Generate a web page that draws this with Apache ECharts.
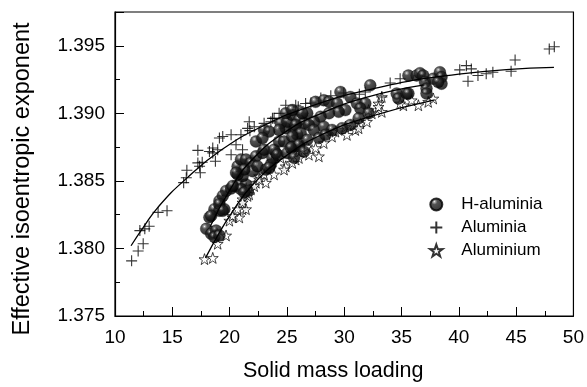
<!DOCTYPE html>
<html><head><meta charset="utf-8">
<script src="https://cdn.jsdelivr.net/npm/echarts@6/dist/echarts.min.js"></script>
<style>html,body{margin:0;padding:0;background:#fff}#c{width:587px;height:387px}</style>
</head><body><div id="c"></div>
<script>
// H-aluminia (balls)
const hAluminiaX = [17.96,18.24,18.53,18.39,18.82,18.68,19.11,18.68,19.11,19.54,19.11,19.40,19.69,20.13,20.56,20.99,21.43,21.57,20.99,21.28,21.13,20.70,20.70,20.99,21.43,21.86,22.00,21.28,22.30,22.87,23.16,23.60,23.74,24.03,22.43,23.45,22.30,23.01,23.88,24.32,24.17,24.75,25.04,25.47,26.05,25.90,25.62,24.90,24.46,24.32,25.04,25.47,26.05,26.49,26.77,26.34,24.90,23.01,23.45,22.87,25.47,27.50,28.22,28.67,29.38,29.67,30.54,31.11,31.84,31.41,32.27,30.10,29.52,28.67,27.94,27.35,26.92,25.77,26.20,25.47,27.35,28.22,28.94,29.81,30.54,31.26,32.13,34.58,34.73,35.45,35.60,36.32,26.05,25.33,26.77,27.79,28.37,36.61,36.90,37.05,37.18,37.18,35.60,37.77,38.35,38.49,38.49,38.20,20.56,19.11,19.40,20.27,18.39,25.62,26.49];
const hAluminiaY = [1.38145,1.38230,1.38121,1.38108,1.38132,1.38084,1.38096,1.38291,1.38279,1.38291,1.38352,1.38389,1.38425,1.38443,1.38462,1.38474,1.38474,1.38425,1.38438,1.38414,1.38535,1.38548,1.38608,1.38658,1.38658,1.38633,1.38572,1.38584,1.38682,1.38707,1.38584,1.38621,1.38670,1.38707,1.38608,1.38597,1.38792,1.38731,1.38731,1.38792,1.38694,1.38792,1.38707,1.38755,1.38755,1.38841,1.38877,1.38890,1.38926,1.38877,1.38938,1.38987,1.38951,1.38926,1.39000,1.39000,1.39000,1.38877,1.38865,1.38817,1.39024,1.39085,1.39097,1.39085,1.39073,1.39158,1.39121,1.39073,1.39073,1.39036,1.39207,1.39024,1.39011,1.39000,1.38975,1.38938,1.38914,1.38914,1.38853,1.38828,1.38877,1.38901,1.38877,1.38890,1.38914,1.38963,1.39000,1.39146,1.39110,1.39146,1.39280,1.39280,1.38767,1.38743,1.38804,1.38817,1.38841,1.39297,1.39280,1.39231,1.39183,1.39146,1.39146,1.39256,1.39304,1.39268,1.39219,1.39231,1.38560,1.38328,1.38279,1.38462,1.38242,1.38672,1.38716];
// Aluminia (plus)
const aluminiaX = [11.45,12.02,12.46,12.17,12.60,12.98,13.76,14.54,15.99,16.22,16.27,17.38,17.61,17.23,17.44,18.53,18.76,17.23,18.24,18.53,18.96,19.11,19.40,20.13,20.13,20.56,20.99,21.13,21.71,21.77,22.15,23.01,23.60,23.88,24.32,24.90,25.77,26.63,21.57,23.74,25.99,27.09,27.96,28.83,29.96,31.32,31.84,33.28,34.01,34.88,40.08,40.66,41.09,40.80,41.67,42.39,42.97,44.56,44.91,47.89,48.33];
const aluminiaY = [1.37908,1.37981,1.38035,1.38132,1.38145,1.38164,1.38267,1.38279,1.38487,1.38523,1.38579,1.38608,1.38638,1.38633,1.38560,1.38707,1.38645,1.38726,1.38718,1.38743,1.38731,1.38817,1.38828,1.38841,1.38694,1.38767,1.38841,1.38731,1.38938,1.38872,1.38901,1.38926,1.38938,1.38963,1.39000,1.39060,1.39060,1.39073,1.38889,1.38963,1.39048,1.39076,1.39113,1.39130,1.39150,1.39141,1.39158,1.39121,1.39224,1.39256,1.39322,1.39353,1.39329,1.39238,1.39280,1.39293,1.39304,1.39312,1.39395,1.39476,1.39493];
// Aluminium (star)
const aluminiumX = [17.81,18.53,18.96,19.69,18.68,20.26,20.85,19.98,21.13,21.43,21.13,21.57,21.86,22.30,23.16,22.58,24.90,25.77,26.05,20.26,20.70,21.13,21.71,22.15,22.58,23.01,23.30,23.74,24.46,25.47,26.05,26.34,26.77,25.47,27.50,28.22,28.94,29.24,30.24,30.97,31.41,31.98,32.41,32.99,33.28,35.16,35.88,26.92,27.79,32.13,33.28,32.99,34.88,36.47,37.33,37.77,30.10,30.82,31.26,29.52,23.88,24.75];
const aluminiumY = [1.37921,1.37930,1.38035,1.38096,1.38121,1.38230,1.38230,1.38206,1.38291,1.38291,1.38364,1.38389,1.38438,1.38487,1.38487,1.38535,1.38608,1.38658,1.38718,1.38242,1.38291,1.38340,1.38401,1.38462,1.38511,1.38548,1.38608,1.38645,1.38670,1.38707,1.38670,1.38731,1.38755,1.38633,1.38743,1.38780,1.38828,1.38865,1.38841,1.38877,1.38926,1.38938,1.39000,1.39073,1.39121,1.39060,1.39097,1.38694,1.38682,1.39024,1.39011,1.39048,1.39073,1.39060,1.39085,1.39110,1.38901,1.38914,1.38890,1.38877,1.38548,1.38584];
// fitted curves
const fitAluminiaX = [11.4,12.5,13.8,16.0,19.3,23.0,27.0,32.4,40.0,48.3];
const fitAluminiaY = [1.3802,1.3816,1.3831,1.3850,1.3873,1.3891,1.3905,1.3918,1.3929,1.3934];
const fitHAluminiaX = [18.3,20,22,25,28,32,37];
const fitHAluminiaY = [1.3816,1.3843,1.3866,1.3887,1.3900,1.3912,1.3921];
const fitAluminiumX = [17.9,19,20,22,25,28,32,37.9];
const fitAluminiumY = [1.3793,1.3810,1.3824,1.3847,1.3869,1.3884,1.3897,1.3910];

const legendNames = ['H-aluminia','Aluminia','Aluminium'];
const xTitle = 'Solid mass loading';
const yTitle = 'Effective isoentropic exponent';

const zip = (a,b) => a.map((v,i) => [v,b[i]]);
const FONT = "Arial, 'Liberation Sans', sans-serif";
const ball = {type:'radial', x:0.36, y:0.3, r:0.7, colorStops:[{offset:0,color:'#ffffff'},{offset:0.08,color:'#a0a0a0'},{offset:0.3,color:'#262626'},{offset:1,color:'#000000'}]};
const PLUS = 'path://M0,50 L100,50 M50,0 L50,100';
const STAR = 'path://M50,0 L61.8,35.1 L97.6,34.5 L68.8,56.6 L79.4,90.5 L50,70 L20.6,90.5 L31.2,56.6 L2.4,34.5 L38.2,35.1 Z';
const fitLine = (name, xs, ys) => ({name: name, type:'line', data: zip(xs,ys), smooth:true, showSymbol:false, symbol:'none', silent:true, lineStyle:{color:'#000', width:1.3}, z:5});

const chart = echarts.init(document.getElementById('c'), null, {renderer:'canvas'});
chart.setOption({
  animation:false,
  backgroundColor:'#fff',
  grid:{left:115, right:11, top:12, bottom:69, show:true, borderColor:'#000', borderWidth:1.2, backgroundColor:'transparent'},
  legend:{data:legendNames, orient:'vertical', left:424, top:191, itemWidth:40, itemHeight:12, itemGap:6,
    textStyle:{fontFamily:FONT, fontSize:17, color:'#000'}},
  xAxis:{type:'value', min:10, max:50, interval:5,
    name:xTitle, nameLocation:'middle', nameGap:44, nameTextStyle:{fontFamily:FONT, fontSize:21.5, color:'#000', padding:[0,22,0,0]},
    axisLine:{lineStyle:{color:'#000', width:1.2}}, axisTick:{inside:true, length:9, lineStyle:{color:'#000'}},
    minorTick:{show:true, splitNumber:2, length:5, lineStyle:{color:'#000'}},
    splitLine:{show:false}, axisLabel:{fontFamily:FONT, fontSize:19, color:'#000', margin:12}},
  yAxis:{type:'value', min:1.375, max:1.3975, interval:0.005,
    name:yTitle, nameLocation:'middle', nameGap:80, nameTextStyle:{fontFamily:FONT, fontSize:23.5, color:'#000', padding:[0,30,0,0]},
    axisLine:{lineStyle:{color:'#000', width:1.2}}, axisTick:{inside:true, length:9, lineStyle:{color:'#000'}},
    minorTick:{show:true, splitNumber:2, length:5, lineStyle:{color:'#000'}},
    splitLine:{show:false},
    axisLabel:{fontFamily:FONT, fontSize:19, color:'#000', margin:10, showMaxLabel:false,
      formatter: v => (Math.abs(v*1000 - Math.round(v*200)*5) < 1e-6) ? v.toFixed(3) : ''}},
  series:[
    {name:'Aluminium', type:'scatter', data:zip(aluminiumX, aluminiumY), symbol:STAR, symbolSize:11,
      itemStyle:{color:'#fff', borderColor:'#000', borderWidth:0.9}, z:2},
    {name:'Aluminia', type:'scatter', data:zip(aluminiaX, aluminiaY), symbol:PLUS, symbolSize:11,
      itemStyle:{color:'rgba(0,0,0,0)', borderColor:'#000', borderWidth:1.1}, z:3},
    {name:'H-aluminia', type:'scatter', data:zip(hAluminiaX, hAluminiaY), symbol:'circle', symbolSize:12,
      itemStyle:{color:ball, borderColor:'#000', borderWidth:0.3}, z:4},
    fitLine('fitA', fitAluminiaX, fitAluminiaY),
    fitLine('fitH', fitHAluminiaX, fitHAluminiaY),
    fitLine('fitS', fitAluminiumX, fitAluminiumY)
  ]
});
</script></body></html>
